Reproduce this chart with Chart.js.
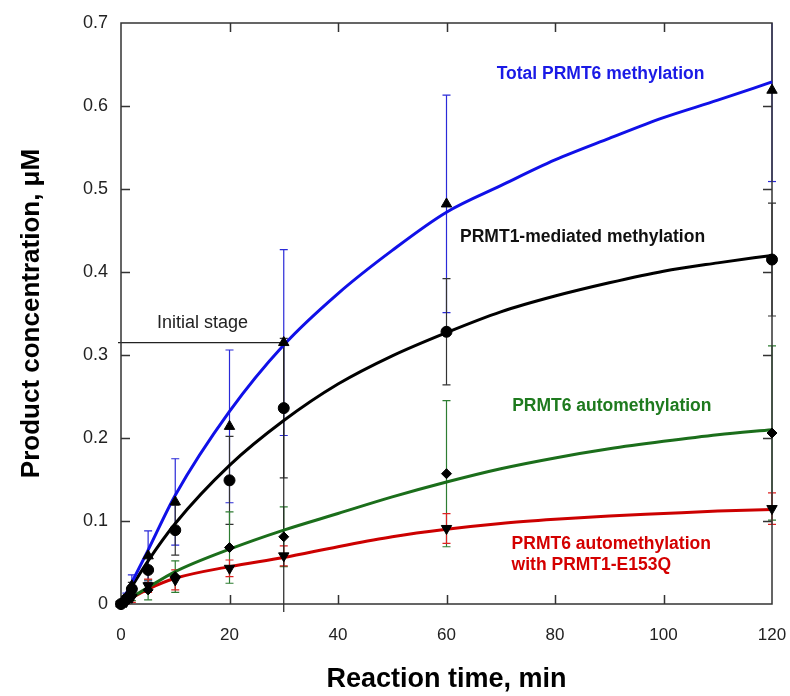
<!DOCTYPE html>
<html><head><meta charset="utf-8">
<script src="https://cdn.jsdelivr.net/npm/chart.js@4/dist/chart.umd.min.js"></script>
<style>html,body{margin:0;padding:0;background:#fff}#wrap{width:790px;height:696px}</style>
</head><body><div id="wrap"><canvas id="c" width="790" height="696"></canvas></div>
<script>
// ---- data ----
const timePoints = [0, 1, 2, 5, 10, 20, 30, 60, 120];
const totalVals  = [0, 0.008, 0.022, 0.058, 0.123, 0.214, 0.315, 0.482, 0.619];
const totalErr   = [0, 0.005, 0.013, 0.030, 0.052, 0.092, 0.112, 0.131, 0.110];
const prmt1Vals  = [0, 0.006, 0.018, 0.041, 0.089, 0.149, 0.236, 0.328, 0.415];
const prmt1Err   = [0, 0.004, 0.008, 0.015, 0.030, 0.053, 0.084, 0.064, 0.068];
const autoVals   = [0, 0.004, 0.010, 0.017, 0.033, 0.068, 0.081, 0.157, 0.206];
const autoErr    = [0, 0.003, 0.006, 0.012, 0.019, 0.043, 0.036, 0.088, 0.105];
const e153qVals  = [0, 0.003, 0.008, 0.022, 0.029, 0.043, 0.058, 0.091, 0.115];
const e153qErr   = [0, 0.003, 0.006, 0.008, 0.012, 0.010, 0.012, 0.018, 0.019];

const fitTimes   = [0, 5, 10, 20, 30, 40, 50, 60, 70, 80, 90, 100, 110, 120];
const totalFit   = [0, 0.065, 0.131, 0.232, 0.312, 0.374, 0.426, 0.472, 0.504, 0.535, 0.561, 0.586, 0.607, 0.629];
const prmt1Fit   = [0, 0.052, 0.097, 0.167, 0.221, 0.265, 0.299, 0.327, 0.352, 0.371, 0.387, 0.401, 0.411, 0.420];
const autoFit    = [0, 0.020, 0.039, 0.066, 0.089, 0.109, 0.129, 0.147, 0.163, 0.176, 0.187, 0.196, 0.204, 0.210];
const e153qFit   = [0, 0.018, 0.031, 0.045, 0.056, 0.069, 0.081, 0.090, 0.097, 0.102, 0.106, 0.109, 0.112, 0.114];

const xTicks = [0, 20, 40, 60, 80, 100, 120];
const yTicks = [0, 0.1, 0.2, 0.3, 0.4, 0.5, 0.6, 0.7];
const initialStage = {x: 30, y: 0.315, label: "Initial stage"};

const labels = [
  {text: "Total PRMT6 methylation", x: 69.25, y: 0.6325, color: "#1a1ae6", bold: true},
  {text: "PRMT1-mediated methylation", x: 62.5, y: 0.4365, color: "#111111", bold: true},
  {text: "PRMT6 automethylation", x: 72.1, y: 0.2325, color: "#1e7a1e", bold: true},
  {text: "PRMT6 automethylation", x: 72.0, y: 0.0659, color: "#d40000", bold: true},
  {text: "with PRMT1-E153Q", x: 72.0, y: 0.041, color: "#d40000", bold: true},
  {text: "Initial stage", x: 6.64, y: 0.333, color: "#222222", bold: false}
];

const COL_BLUE = "#1010e8", COL_BLACK = "#000000", COL_GREEN = "#1b6e1b", COL_RED = "#cc0000";

function xy(xs, ys){ return xs.map((x,i)=>({x:x, y:ys[i]})); }

const errSets = [
  {vals: totalVals, err: totalErr, color: "#2a2ad8"},
  {vals: prmt1Vals, err: prmt1Err, color: "#333333"},
  {vals: autoVals,  err: autoErr,  color: "#2e7d32"},
  {vals: e153qVals, err: e153qErr, color: "#dd2222"}
];

const TICKLEN = 9;
const framePlugin = {
  id: 'frame',
  beforeDatasetsDraw(chart){
    const ctx = chart.ctx, xs = chart.scales.x, ys = chart.scales.y, a = chart.chartArea;
    ctx.save();
    // error bars
    errSets.forEach(s=>{
      ctx.strokeStyle = s.color; ctx.lineWidth = 1.2;
      timePoints.forEach((t,i)=>{
        if(!s.err[i]) return;
        const px = xs.getPixelForValue(t);
        const top = ys.getPixelForValue(Math.min(s.vals[i]+s.err[i], 0.7));
        const bot = ys.getPixelForValue(Math.max(s.vals[i]-s.err[i], 0));
        ctx.beginPath(); ctx.moveTo(px, top); ctx.lineTo(px, bot); ctx.stroke();
        ctx.beginPath();
        if (s.vals[i]+s.err[i] <= 0.7){ ctx.moveTo(px-4, top); ctx.lineTo(px+4, top); }
        if (s.vals[i]-s.err[i] >= 0){ ctx.moveTo(px-4, bot); ctx.lineTo(px+4, bot); }
        ctx.stroke();
      });
    });
    // initial stage guide lines
    const ix = xs.getPixelForValue(initialStage.x), iy = ys.getPixelForValue(initialStage.y);
    ctx.strokeStyle = "#222"; ctx.lineWidth = 1.2;
    ctx.beginPath(); ctx.moveTo(xs.left-3, iy); ctx.lineTo(ix, iy); ctx.lineTo(ix, ys.bottom+8); ctx.stroke();
    // frame with inward ticks
    ctx.strokeStyle = "#333"; ctx.lineWidth = 1.5;
    ctx.strokeRect(a.left, a.top, a.right-a.left, a.bottom-a.top);
    ctx.beginPath();
    yTicks.forEach(v=>{
      const p = Math.round(ys.getPixelForValue(v))+0.5;
      if (v===0 || v===0.7) return;
      ctx.moveTo(a.left, p); ctx.lineTo(a.left+TICKLEN, p);
      ctx.moveTo(a.right, p); ctx.lineTo(a.right-TICKLEN, p);
    });
    xTicks.forEach(v=>{
      const p = Math.round(xs.getPixelForValue(v))+0.5;
      if (v===0 || v===120) return;
      ctx.moveTo(p, a.bottom); ctx.lineTo(p, a.bottom-TICKLEN);
      ctx.moveTo(p, a.top); ctx.lineTo(p, a.top+TICKLEN);
    });
    ctx.stroke();
    ctx.restore();
  },
  afterDraw(chart){
    const ctx = chart.ctx, xs = chart.scales.x, ys = chart.scales.y;
    ctx.save();
    labels.forEach(l=>{
      ctx.fillStyle = l.color;
      ctx.font = (l.bold? "bold 17.5px" : "18px") + " 'Liberation Sans', Arial, sans-serif";
      ctx.textAlign = "left"; ctx.textBaseline = "alphabetic";
      ctx.fillText(l.text, xs.getPixelForValue(l.x), ys.getPixelForValue(l.y));
    });
    ctx.restore();
  }
};

const lineDs = (data, color) => ({type:'line', data: data, borderColor: color, borderWidth: 3, pointRadius: 0, fill: false, cubicInterpolationMode: 'monotone', order: 2, clip: false});
const markDs = (data, style, rot, r) => ({type:'scatter', data: data, pointStyle: style, rotation: rot, pointRadius: r, pointBackgroundColor: '#000', pointBorderColor: '#000', borderWidth: 1, showLine: false, order: 1, clip: false});

new Chart(document.getElementById('c'), {
  data: {
    datasets: [
      Object.assign(lineDs(xy(fitTimes, totalFit), COL_BLUE), {label: 'Total PRMT6 methylation fit'}),
      Object.assign(lineDs(xy(fitTimes, prmt1Fit), COL_BLACK), {label: 'PRMT1-mediated methylation fit'}),
      Object.assign(lineDs(xy(fitTimes, autoFit), COL_GREEN), {label: 'PRMT6 automethylation fit'}),
      Object.assign(lineDs(xy(fitTimes, e153qFit), COL_RED), {label: 'PRMT6 automethylation with PRMT1-E153Q fit'}),
      Object.assign(markDs(xy(timePoints, totalVals), 'triangle', 0, 6), {label: 'Total PRMT6 methylation'}),
      Object.assign(markDs(xy(timePoints, prmt1Vals), 'circle', 0, 5.5), {label: 'PRMT1-mediated methylation'}),
      Object.assign(markDs(xy(timePoints, autoVals), 'rectRot', 0, 5), {label: 'PRMT6 automethylation'}),
      Object.assign(markDs(xy(timePoints, e153qVals), 'triangle', 180, 6), {label: 'PRMT6 automethylation with PRMT1-E153Q'})
    ]
  },
  options: {
    responsive: false, animation: false, devicePixelRatio: 1,
    layout: {padding: {top: 23, right: 18, left: 0, bottom: 0}},
    plugins: {legend: {display: false}, tooltip: {enabled: false}},
    scales: {
      x: {type: 'linear', min: 0, max: 120,
          afterBuildTicks: s => { s.ticks = xTicks.map(v=>({value:v})); },
          afterFit: s => { s.height = 92; s.paddingLeft = 0; s.paddingRight = 0; },
          grid: {display: false, drawTicks: false}, border: {display: false},
          ticks: {padding: 21, color: '#222', font: {family: "'Liberation Sans', Arial", size: 17}, maxRotation: 0},
          title: {display: true, text: 'Reaction time, min', color: '#000', padding: {top: 2, bottom: 0},
                  font: {family: "'Liberation Sans', Arial", size: 27, weight: 'bold'}}},
      y: {type: 'linear', min: 0, max: 0.7,
          afterBuildTicks: s => { s.ticks = yTicks.map(v=>({value:v})); },
          afterFit: s => { s.width = 121; s.paddingTop = 0; s.paddingBottom = 0; },
          grid: {display: false, drawTicks: false}, border: {display: false},
          ticks: {padding: 13, color: '#222', font: {family: "'Liberation Sans', Arial", size: 18},
                  callback: v => String(Math.round(v*10)/10)},
          title: {display: true, text: 'Product concentration, \u03BCM', color: '#000', padding: {top: 16, bottom: 0},
                  font: {family: "'Liberation Sans', Arial", size: 26, weight: 'bold'}}}
    }
  },
  plugins: [framePlugin]
});
</script></body></html>
